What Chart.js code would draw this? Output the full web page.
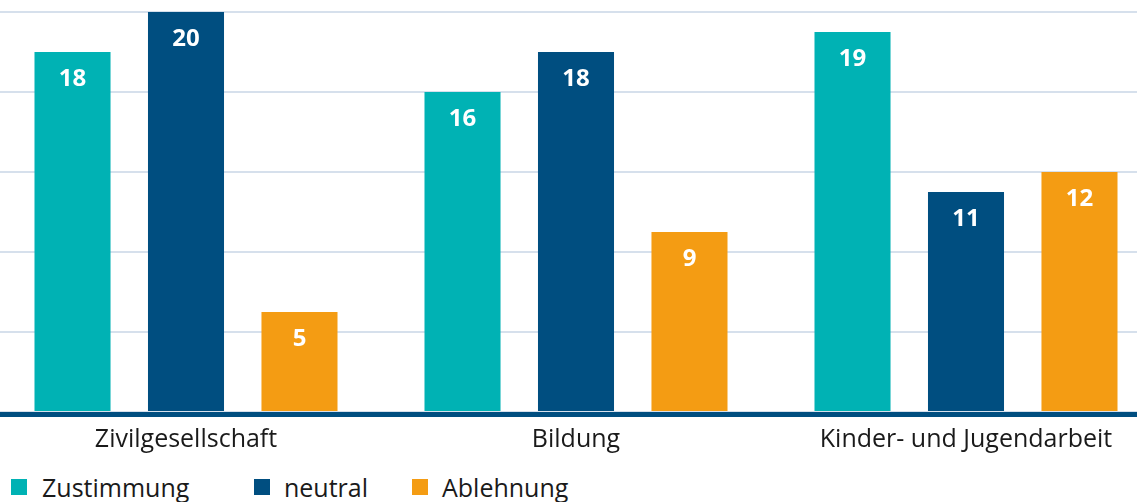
<!DOCTYPE html>
<html>
<head>
<meta charset="utf-8">
<script src="https://cdn.jsdelivr.net/npm/chart.js@4/dist/chart.umd.min.js"></script>
<style>
  html, body { margin: 0; padding: 0; background: #fff; overflow: hidden; }
  body { width: 1137px; height: 502px; position: relative; font-family: "Open Sans", sans-serif; }
  #wrap { position: absolute; left: -9px; top: 0; width: 1170px; height: 468px; }
  #legend { position: absolute; top: 474px; left: 0; height: 26px; }
  .item { position: absolute; top: 0; white-space: nowrap; font-size: 25px; color: #1a1a1a; line-height: 26px; }
  .item span.box { position: absolute; top: 5px; width: 16px; height: 16px; }
  .item span.txt { position: absolute; white-space: nowrap; }
</style>
</head>
<body>
<div id="wrap"><canvas id="chart"></canvas></div>
<div id="legend"></div>
<script>
const categories = ["Zivilgesellschaft", "Bildung", "Kinder- und Jugendarbeit"];
const seriesNames = ["Zustimmung", "neutral", "Ablehnung"];
const zustimmung = [18, 16, 19];
const neutral = [20, 18, 11];
const ablehnung = [5, 9, 12];
const colors = ["#00b2b4", "#004e80", "#f49c13"];
const yTicks = [0, 4, 8, 12, 16, 20];

const values = [zustimmung, neutral, ablehnung];

// value labels inside bars + heavy baseline drawn over the bars
const barLabels = {
  id: "barLabels",
  afterDatasetsDraw(chart) {
    const ctx = chart.ctx;
    const area = chart.chartArea;
    const y0 = chart.scales.y.getPixelForValue(0);
    ctx.save();
    ctx.fillStyle = "#004e80";
    ctx.fillRect(area.left, y0, area.right - area.left, 5);
    ctx.font = "bold 24px 'Open Sans'";
    ctx.fillStyle = "#fff";
    ctx.textAlign = "center";
    ctx.textBaseline = "middle";
    chart.data.datasets.forEach((ds, i) => {
      chart.getDatasetMeta(i).data.forEach((bar, j) => {
        ctx.fillText(String(ds.data[j]), bar.x, bar.y + 27);
      });
    });
    ctx.restore();
  }
};

new Chart(document.getElementById("chart"), {
  type: "bar",
  data: {
    labels: categories,
    datasets: seriesNames.map((name, i) => ({
      label: name,
      data: values[i],
      backgroundColor: colors[i],
      categoryPercentage: 0.873,
      barPercentage: 0.67,
    })),
  },
  options: {
    responsive: true,
    maintainAspectRatio: false,
    animation: false,
    layout: { padding: { top: 12, left: 0, right: 0, bottom: 0 } },
    plugins: {
      legend: { display: false },
      tooltip: { enabled: false },
    },
    scales: {
      x: {
        grid: { display: false, drawTicks: false },
        border: { display: false },
        ticks: {
          color: "#1a1a1a",
          font: { family: "Open Sans", size: 25 },
          padding: 13,
          maxRotation: 0,
        },
      },
      y: {
        min: 0,
        max: 20,
        afterBuildTicks: (scale) => {
          scale.ticks = yTicks.map((v) => ({ value: v }));
        },
        ticks: { display: false },
        grid: { color: "#d6e0ec", lineWidth: 2, drawTicks: false },
        border: { display: false },
      },
    },
  },
  plugins: [barLabels],
});

// legend from series
const legend = document.getElementById("legend");
const legendX = [11, 254, 412];
seriesNames.forEach((name, i) => {
  const item = document.createElement("div");
  item.className = "item";
  item.style.left = legendX[i] + "px";
  item.innerHTML = '<span class="box" style="left:0;background:' + colors[i] + '"></span>' +
    '<span class="txt" style="left:' + (i === 0 ? 31 : 30) + 'px">' + name + '</span>';
  legend.appendChild(item);
});
</script>
</body>
</html>
